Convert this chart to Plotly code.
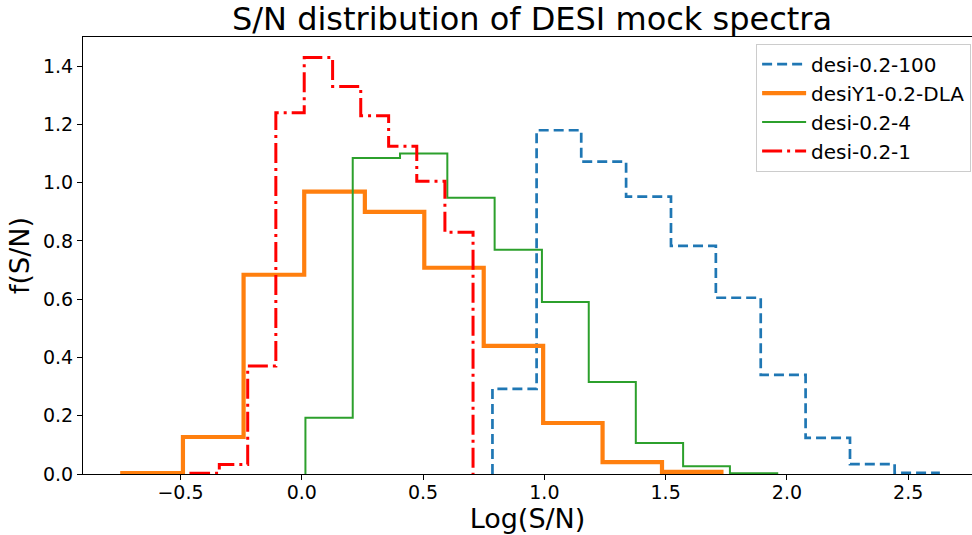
import plotly.graph_objects as go

# step histograms (bin edges and f(S/N) per bin)
names = ["desi-0.2-100", "desiY1-0.2-DLA", "desi-0.2-4", "desi-0.2-1"]

edges_100 = [0.786, 0.968, 1.152, 1.337, 1.522, 1.707, 1.892, 2.077, 2.26, 2.444, 2.625]
f_100 = [0.292, 1.18, 1.072, 0.952, 0.783, 0.605, 0.34, 0.124, 0.034, 0.004]

edges_dla = [-0.74, -0.49, -0.24, 0.01, 0.26, 0.505, 0.75, 0.995, 1.24, 1.485, 1.73]
f_dla = [0.003, 0.127, 0.684, 0.969, 0.90, 0.708, 0.44, 0.175, 0.041, 0.007]

edges_4 = [0.015, 0.21, 0.405, 0.6, 0.795, 0.99, 1.183, 1.377, 1.572, 1.765, 1.96]
f_4 = [0.193, 1.085, 1.10, 0.948, 0.77, 0.59, 0.316, 0.106, 0.027, 0.003]

edges_1 = [-0.457, -0.34, -0.223, -0.107, 0.01, 0.127, 0.243, 0.358, 0.474, 0.59, 0.706]
f_1 = [0.003, 0.033, 0.371, 1.24, 1.43, 1.33, 1.23, 1.125, 1.005, 0.83]

x_ticks = [-0.5, 0.0, 0.5, 1.0, 1.5, 2.0, 2.5]
y_ticks = [0.0, 0.2, 0.4, 0.6, 0.8, 1.0, 1.2, 1.4]

styles = [
    dict(color="#1f77b4", width=2.7, dash="10px,5px"),
    dict(color="#ff7f0e", width=4.2),
    dict(color="#2ca02c", width=2),
    dict(color="#ff0000", width=3, dash="20px,5px,3px,5px"),
]


def step_xy(edges, vals):
    # outline like matplotlib histtype="step"
    xs = [edges[0]] + edges[:-1] + [edges[-1]]
    ys = [0] + vals + [0]
    return xs, ys


fig = go.Figure()
for name, e, v, st in zip(names, [edges_100, edges_dla, edges_4, edges_1],
                          [f_100, f_dla, f_4, f_1], styles):
    xs, ys = step_xy(e, v)
    fig.add_trace(go.Scatter(x=xs, y=ys, mode="lines", name=name,
                             line=dict(shape="hv", **st)))

axis_common = dict(showline=True, linecolor="black", linewidth=1,
                   ticks="outside", ticklen=5, tickcolor="black",
                   showgrid=False, zeroline=False,
                   tickfont=dict(size=19, color="black"), tickformat=".1f")

fig.update_layout(
    width=972, height=535,
    margin=dict(l=83, r=0, t=37, b=61),
    paper_bgcolor="white", plot_bgcolor="white",
    font=dict(family="DejaVu Sans", color="black"),
    title=dict(text="S/N distribution of DESI mock spectra",
               font=dict(size=32), x=532 / 972, xref="container", xanchor="center",
               y=1 - 18.5 / 535, yref="container", yanchor="middle"),
    xaxis=dict(range=[-0.902, 2.763], tickvals=x_ticks, mirror=True,
               ticklabelstandoff=-4,
               title=dict(text="Log(S/N)", font=dict(size=27), standoff=7),
               **axis_common),
    yaxis=dict(range=[0, 1.5], tickvals=y_ticks,
               title=dict(text="f(S/N)", font=dict(size=27), standoff=5),
               **axis_common),
    legend=dict(x=0.999, xanchor="right", y=0.985, yanchor="top",
                font=dict(size=20), bordercolor="#cccccc", borderwidth=1,
                bgcolor="rgba(255,255,255,0.8)", itemwidth=44),
)

# drop the page's default body margin so the figure sits at the corner
fig.write_html("out.html", config={"displayModeBar": False},
               post_script="document.body.style.margin='0';")
